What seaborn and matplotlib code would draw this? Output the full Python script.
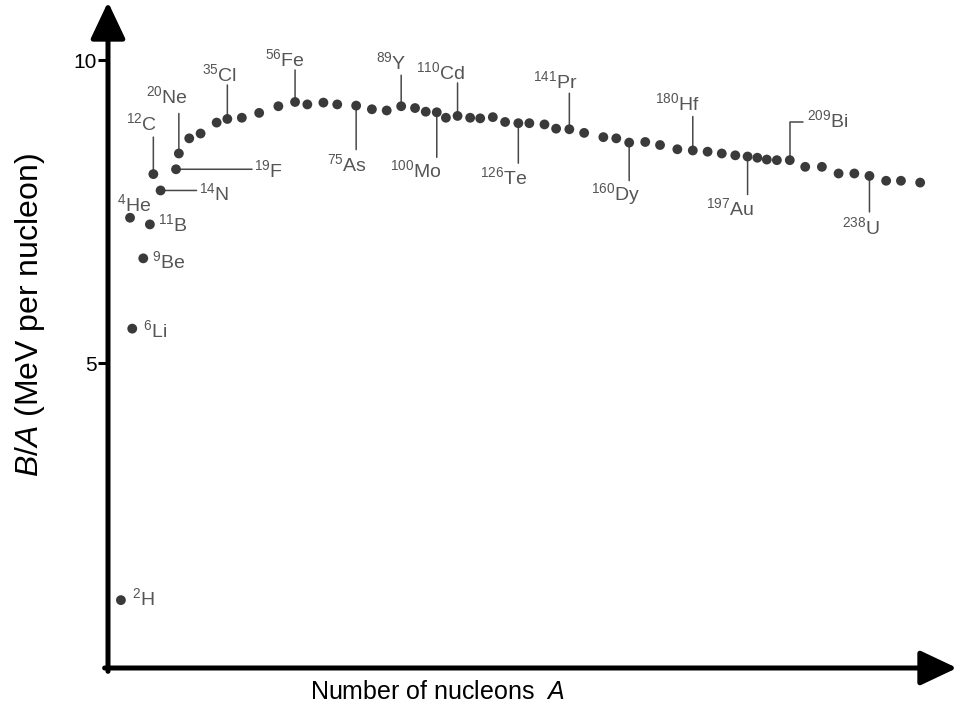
import numpy as np
import pandas as pd
import matplotlib
matplotlib.use('Agg')
import matplotlib.pyplot as plt
import seaborn as sns

# binding energy per nucleon (x = position along the A axis)
a_pos = [0.4, 3.3, 4.0, 7.5, 9.6, 10.7, 13.0, 17.9, 18.8, 22.1, 25.7, 30.8, 34.2, 38.8,
         44.3, 50.4, 55.7, 59.6, 64.7, 69.1, 75.1, 80.1, 84.8, 89.4, 93.8, 97.2, 100.7,
         103.6, 107.3, 111.3, 114.5, 118.5, 122.4, 126.6, 130.1, 134.9, 138.6, 142.8,
         147.5, 153.6, 157.7, 161.8, 166.9, 171.6, 177.1, 182.0, 186.7, 191.2, 195.5,
         199.4, 202.5, 205.5, 208.7, 212.8, 217.7, 223.0, 228.3, 233.3, 238.1, 243.4,
         248.1, 254.2]
binding = [1.09, 7.40, 5.57, 6.73, 7.29, 8.12, 7.85, 8.20, 8.46, 8.71, 8.79, 8.97, 9.03,
           9.05, 9.13, 9.24, 9.31, 9.27, 9.30, 9.27, 9.25, 9.19, 9.17, 9.24, 9.21, 9.15,
           9.14, 9.05, 9.08, 9.05, 9.04, 9.06, 8.98, 8.96, 8.96, 8.94, 8.87, 8.86, 8.80,
           8.73, 8.71, 8.64, 8.65, 8.60, 8.53, 8.51, 8.49, 8.46, 8.43, 8.41, 8.39, 8.36,
           8.35, 8.35, 8.24, 8.24, 8.13, 8.13, 8.09, 8.01, 8.01, 7.98]

# labelled nuclides: index into the arrays above, mass number, symbol
label_idx = [0, 1, 2, 3, 4, 5, 6, 7, 8, 12, 16, 20, 23, 26, 28, 33, 37, 41, 45, 49, 53, 58]
label_mass = [2, 4, 6, 9, 11, 12, 14, 19, 20, 35, 56, 75, 89, 100, 110, 126, 141, 160,
              180, 197, 209, 238]
label_sym = ['H', 'He', 'Li', 'Be', 'B', 'C', 'N', 'F', 'Ne', 'Cl', 'Fe', 'As', 'Y', 'Mo',
             'Cd', 'Te', 'Pr', 'Dy', 'Hf', 'Au', 'Bi', 'U']

df = pd.DataFrame({'A': a_pos, 'BA': binding})

sns.set_theme(style='white')
plt.rcParams['font.family'] = ['Liberation Sans', 'DejaVu Sans']
plt.rcParams['mathtext.fontset'] = 'custom'
plt.rcParams['mathtext.rm'] = 'Liberation Sans'
plt.rcParams['mathtext.it'] = 'Liberation Sans:italic'
plt.rcParams['mathtext.default'] = 'regular'

fig = plt.figure(figsize=(9.58, 7.13), dpi=100)
ax = fig.add_axes([108 / 958, 45 / 713, 849 / 958, 666 / 713])

sns.scatterplot(data=df, x='A', y='BA', ax=ax, s=50, color='#3a3a3a',
                edgecolor='none', linewidth=0, legend=False, zorder=3)

ax.set_xlim(-3.7, 265.9)
ax.set_ylim(-0.03, 10.96)
ax.set_xticks([])
ax.set_yticks([5, 10])
ax.set_yticklabels(['5', '10'])
ax.tick_params(axis='y', length=7, width=2.2, direction='out', labelsize=15, pad=1,
               color='black', labelcolor='black', left=True)
for sp in ax.spines.values():
    sp.set_visible(False)

# axis arrows
arrow_style = '-|>,head_length=0.55,head_width=0.26'
ax.annotate('', xy=(1, 0), xytext=(-0.004, 0), xycoords='axes fraction',
            arrowprops=dict(arrowstyle=arrow_style, mutation_scale=41, lw=3.6,
                            color='black', shrinkA=0, shrinkB=0))
ax.annotate('', xy=(0, 1), xytext=(0, -0.005), xycoords='axes fraction',
            arrowprops=dict(arrowstyle=arrow_style, mutation_scale=41, lw=3.6,
                            color='black', shrinkA=0, shrinkB=0))

ax.set_xlabel(r'Number of nucleons  $\mathit{A}$', fontsize=18, color='black')
ax.set_ylabel(r'$\mathit{B/A}$ (MeV per nucleon)', fontsize=23, color='black')
ax.xaxis.set_label_coords(0.388, -0.018)
ax.yaxis.set_label_coords(-0.072, 0.53)

# label layout in pixels: (leader end dx, dy or None, text dx, text dy, ha)
layout = {
    'H': (None, None, 11, 2, 'left'),
    'He': (None, None, 4, 14, 'center'),
    'Li': (None, None, 11, -2, 'left'),
    'Be': (None, None, 9, -3, 'left'),
    'B': (None, None, 8, 0, 'left'),
    'C': (0, 37, 4, 51, 'right'),
    'N': (36, 0, 38, -3, 'left'),
    'F': (76, 0, 78, -1, 'left'),
    'Ne': (0, 40, 9, 57, 'right'),
    'Cl': (0, 34, 10, 45, 'right'),
    'Fe': (0, 32, 10, 43, 'right'),
    'As': (0, -44, 11, -59, 'right'),
    'Y': (0, 31, 5, 44, 'right'),
    'Mo': (0, -45, 5, -58, 'right'),
    'Cd': (0, 33, 8, 44, 'right'),
    'Te': (0, -40, 9, -54, 'right'),
    'Pr': (0, 36, 8, 48, 'right'),
    'Dy': (0, -38, 11, -51, 'right'),
    'Hf': (0, 34, 7, 47, 'right'),
    'Au': (0, -38, 6, -52, 'right'),
    'Bi': (13, 38, 17, 40, 'left'),
    'U': (0, -36, 11, -51, 'right'),
}

line_col = '#484848'
text_col = '#555555'
for i, m, sym in zip(label_idx, label_mass, label_sym):
    x, y = a_pos[i], binding[i]
    ldx, ldy, tdx, tdy, ha = layout[sym]
    if ldx is not None:
        if sym == 'Bi':
            conn = 'angle,angleA=0,angleB=90,rad=0'
        else:
            conn = 'arc3'
        ax.annotate('', xy=(x, y), xytext=(ldx, ldy), textcoords='offset pixels',
                    arrowprops=dict(arrowstyle='-', lw=1.1, color=line_col,
                                    shrinkA=0, shrinkB=0, connectionstyle=conn),
                    zorder=2)
    ax.annotate(f'$^{{{m}}}${sym}', xy=(x, y), xytext=(tdx, tdy),
                textcoords='offset pixels', ha=ha, va='center', fontsize=14,
                color=text_col)

plt.savefig('out.png', dpi=100)
